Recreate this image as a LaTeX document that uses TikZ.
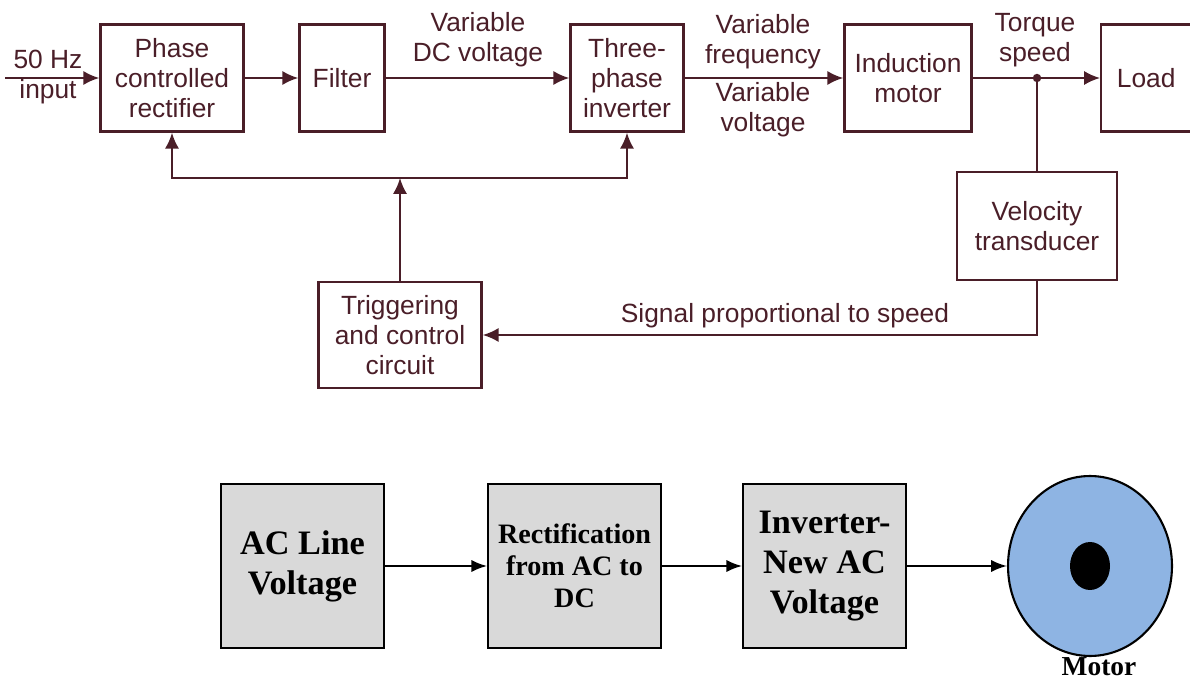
\documentclass[tikz,border=0pt]{standalone}
\usepackage{fontspec}
\setmainfont{Liberation Sans}
\newfontfamily\serifbold{Liberation Serif}
\usetikzlibrary{shapes.geometric,arrows.meta}
\definecolor{maroonline}{RGB}{74,30,40}
\definecolor{gray85}{RGB}{217,217,217}
\definecolor{motorblue}{RGB}{142,180,227}

\begin{document}
\begin{tikzpicture}[x=0.02cm, y=-0.02cm,
	    block/.style={rectangle, draw=maroonline, line width=1.4pt, text=maroonline, align=center, minimum height=2.14cm, inner sep=2pt, font=\fontsize{15}{17}\selectfont},
	    lbl/.style={text=maroonline, align=center, inner sep=0pt, font=\fontsize{15}{17}\selectfont},
	    line/.style={draw=maroonline, line width=1.2pt, -{Latex[length=9pt,width=8pt]}},
	    gblock/.style={rectangle, draw=black, line width=1pt, fill=gray85, align=center, minimum width=3.26cm, minimum height=3.28cm, font=\serifbold\bfseries\fontsize{19.5}{22.7}\selectfont},
	    gline/.style={draw=black, line width=1.2pt, -{Latex[length=9pt,width=7pt]}}]
	    \useasboundingbox (0,0) rectangle (1190,682);
	    
	    % upper diagram
	    \node [block, minimum width=2.86cm] (rect) at (172,78) {Phase\\controlled\\rectifier};
	    \node [block, minimum width=1.7cm] (filter) at (342,78) {Filter};
	    \node [block, minimum width=2.26cm] (inv) at (627,78) {Three-\\phase\\inverter};
	    \node [block, minimum width=2.54cm] (im) at (908,78) {Induction\\motor};
	    \node [block, minimum width=2.2cm, anchor=west] (load) at (1100,78) {\hspace*{-0.4cm}Load};
	    \node [block, minimum width=3.2cm, minimum height=2.16cm] (vel) at (1037,226) {Velocity\\transducer};
	    \node [block, minimum width=3.26cm, minimum height=2.12cm] (trig) at (400,335) {Triggering\\and control\\circuit};
	    
	    \coordinate (in) at (5,78);
	    \coordinate (tap) at (1037,78);
	    \coordinate (join) at (400,178);
	    
	    \node [lbl] (hz) at (48,77) {50 Hz\\input};
	    \node [lbl] (dcv) at (478,40) {Variable\\DC voltage};
	    \node [lbl] (vf) at (763,42) {Variable\\frequency};
	    \node [lbl] (vv) at (763,110) {Variable\\voltage};
	    \node [lbl] (ts) at (1035,40) {Torque\\speed};
	    \node [lbl] (sig) at (785,316) {Signal proportional to speed};
	    
	    \path [line] (in) -- (rect);
	    \path [line] (rect) -- (filter);
	    \path [line] (filter) -- (inv);
	    \path [line] (inv) -- (im);
	    \path [line] (im) -- (load);
	    \fill [maroonline] (tap) circle (2.4pt);
	    \draw [maroonline, line width=1.2pt] (tap) -- (vel.north);
	    \path [line] (vel.south) |- (trig.east);
	    \path [line] (trig.north) -- (join);
	    \path [line] (join) -| (rect.south);
	    \path [line] (join) -| (inv.south);
	    
	    % lower diagram
	    \node [gblock] (acl) at (302.5,566) {AC Line\\Voltage};
	    \node [gblock, minimum width=3.46cm, font=\serifbold\bfseries\fontsize{16}{18.2}\selectfont] (rdc) at (574.5,566) {Rectification\\from AC to\\DC};
	    \node [gblock] (newac) at (824.5,566) {Inverter-\\New AC\\Voltage};
	    \node [ellipse, draw=black, line width=1.2pt, fill=motorblue, minimum width=3.28cm, minimum height=3.6cm, inner sep=0pt] (mot) at (1090,566) {};
	    \node [ellipse, fill=black, minimum width=0.8cm, minimum height=0.96cm, inner sep=0pt] (hub) at (1090,566) {};
	    \node [font=\serifbold\bfseries\fontsize{15.6}{18}\selectfont, inner sep=0pt] (motlbl) at (1099,667) {Motor};
	    
	    \path [gline] (acl) -- (rdc);
	    \path [gline] (rdc) -- (newac);
	    \path [gline] (newac) -- (mot);
	\end{tikzpicture}
\end{document}
